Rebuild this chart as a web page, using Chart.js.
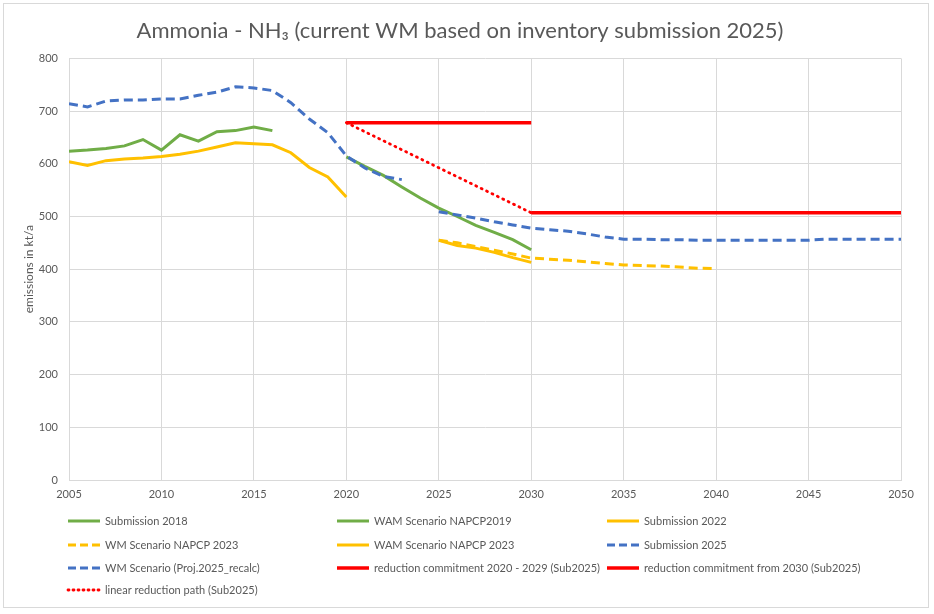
<!DOCTYPE html>
<html>
<head>
<meta charset="utf-8">
<script src="https://cdn.jsdelivr.net/npm/chart.js@4/dist/chart.umd.min.js"></script>
<style>
  body { margin: 0; background: #fff; }
  #wrap { width: 934px; height: 614px; }
</style>
</head>
<body>
<div id="wrap"><canvas id="chart" width="934" height="614"></canvas></div>
<script>
// years for each series
const yearsHist = [2005, 2006, 2007, 2008, 2009, 2010, 2011, 2012, 2013, 2014, 2015, 2016, 2017, 2018, 2019, 2020, 2021, 2022, 2023];
const yearsWam19 = [2020, 2021, 2022, 2023, 2024, 2025, 2026, 2027, 2028, 2029, 2030];
const yearsWm23 = [2025, 2026, 2027, 2028, 2029, 2030, 2031, 2032, 2033, 2034, 2035, 2036, 2037, 2038, 2039, 2040];
const yearsWam23 = [2025, 2026, 2027, 2028, 2029, 2030];
const yearsWm25 = [2025, 2026, 2027, 2028, 2029, 2030, 2031, 2032, 2033, 2034, 2035, 2036, 2037, 2038, 2039, 2040, 2041, 2042, 2043, 2044, 2045, 2046, 2047, 2048, 2049, 2050];
const yearsRc2020 = [2020, 2030];
const yearsRc2030 = [2030, 2050];
const yearsPath = [2020, 2030];

// values in kt/a
const sub2018 = [624, 626, 629, 634, 646, 626, 655, 643, 661, 663, 670, 663];
const wam2019 = [613, 595, 578, 556, 535, 516, 500, 483, 470, 456, 437];
const sub2022 = [604, 597, 606, 609, 611, 614, 618, 624, 632, 640, 638, 636, 621, 593, 575, 537];
const wm2023 = [455, 450, 443, 436, 429, 421, 419, 417, 414, 411, 408, 407, 406, 404, 402, 401];
const wam2023 = [455, 445, 440, 432, 422, 413];
const sub2025 = [714, 708, 719, 721, 721, 723, 723, 730, 736, 746, 744, 739, 716, 685, 659, 615, 592, 576, 570];
const wm2025 = [509, 503, 497, 490, 484, 478, 475, 472, 467, 461, 457, 457, 456, 456, 455, 455, 455, 455, 455, 455, 455, 457, 457, 457, 457, 457];
const rc2020 = [678, 678];
const rc2030 = [507, 507];
const redPath = [678, 507];

const xTicks = [2005, 2010, 2015, 2020, 2025, 2030, 2035, 2040, 2045, 2050];

const green = '#70ad47', yellow = '#ffc000', blue = '#4472c4', red = '#ff0000';

function pts(xs, ys) {
  return xs.map((x, i) => ({ x: x, y: ys[i] }));
}

function series(label, xs, ys, color, dash, width) {
  return {
    label: label,
    data: pts(xs, ys),
    borderColor: color,
    backgroundColor: color,
    borderDash: dash,
    borderWidth: width,
    pointRadius: 0,
    fill: false,
    tension: 0,
    borderCapStyle: dash.length && dash[0] < 3 ? 'round' : 'butt'
  };
}

const datasets = [
  series('Submission 2018', yearsHist.slice(0, 12), sub2018, green, [], 3),
  series('WAM Scenario NAPCP2019', yearsWam19, wam2019, green, [], 3),
  series('Submission 2022', yearsHist.slice(0, 16), sub2022, yellow, [], 3),
  series('WM Scenario NAPCP 2023', yearsWm23, wm2023, yellow, [9, 5], 3),
  series('WAM Scenario NAPCP 2023', yearsWam23, wam2023, yellow, [], 3),
  series('Submission 2025', yearsHist, sub2025, blue, [9, 5], 3),
  series('WM Scenario (Proj.2025_recalc)', yearsWm25, wm2025, blue, [9, 5], 3),
  series('reduction commitment 2020 - 2029 (Sub2025)', yearsRc2020, rc2020, red, [], 3.5),
  series('reduction commitment from 2030 (Sub2025)', yearsRc2030, rc2030, red, [], 3.5),
  series('linear reduction path (Sub2025)', yearsPath, redPath, red, [1, 5], 2.8)
];
// later series drawn on top, like the original
datasets.forEach((d, i) => { d.order = -i; });

const textColor = '#595959';
const gridColor = '#d9d9d9';

// outer frame + three column legend under the plot
const frameAndLegend = {
  id: 'frameAndLegend',
  beforeDraw(chart) {
    const ctx = chart.ctx;
    ctx.save();
    ctx.strokeStyle = gridColor;
    ctx.lineWidth = 1;
    ctx.strokeRect(3.5, 3.5, 925, 604);
    ctx.restore();
  },
  afterDraw(chart) {
    const ctx = chart.ctx;
    const colX = [68, 337, 607];
    const rowY = [521, 545, 568, 590];
    ctx.save();
    ctx.font = '11px Lato';
    ctx.textBaseline = 'middle';
    ctx.fillStyle = textColor;
    chart.data.datasets.forEach((ds, i) => {
      const x = colX[i % 3];
      const y = rowY[Math.floor(i / 3)];
      ctx.beginPath();
      ctx.strokeStyle = ds.borderColor;
      ctx.lineWidth = ds.borderWidth;
      ctx.lineCap = ds.borderCapStyle;
      ctx.setLineDash(ds.borderDash.length ? (ds.borderDash[0] < 3 ? [1, 4] : [8, 4]) : []);
      ctx.moveTo(x, y);
      ctx.lineTo(x + 32, y);
      ctx.stroke();
      ctx.fillText(ds.label, x + 37, y);
    });
    ctx.restore();
  }
};

new Chart(document.getElementById('chart'), {
  type: 'line',
  data: { datasets: datasets },
  options: {
    responsive: false,
    animation: false,
    layout: { padding: { left: 19, right: 33, top: 0, bottom: 114 } },
    plugins: {
      legend: { display: false },
      tooltip: { enabled: false },
      title: {
        display: true,
        text: 'Ammonia - NH\u2083 (current WM based on inventory submission 2025)',
        color: textColor,
        font: { family: 'Lato', size: 22, weight: 'normal' },
        padding: { top: 18, bottom: 14 }
      }
    },
    scales: {
      x: {
        type: 'linear',
        min: 2005,
        max: 2050,
        afterBuildTicks(scale) {
          scale.ticks = xTicks.map(v => ({ value: v }));
        },
        afterFit(scale) { scale.height = 20; },
        ticks: {
          color: textColor,
          font: { family: 'Lato', size: 11 },
          padding: 8,
          maxRotation: 0,
          callback: v => String(v)
        },
        grid: { color: gridColor, drawTicks: false },
        border: { color: gridColor }
      },
      y: {
        min: 0,
        max: 800,
        afterFit(scale) { scale.width = 50; },
        ticks: {
          stepSize: 100,
          color: textColor,
          font: { family: 'Lato', size: 11 },
          padding: 11
        },
        grid: { color: gridColor, drawTicks: false },
        border: { color: gridColor },
        title: {
          display: true,
          text: 'emissions in kt/a',
          color: textColor,
          font: { family: 'Lato', size: 12 },
          padding: { top: 3, bottom: 0 }
        }
      }
    }
  },
  plugins: [frameAndLegend]
});
</script>
</body>
</html>
